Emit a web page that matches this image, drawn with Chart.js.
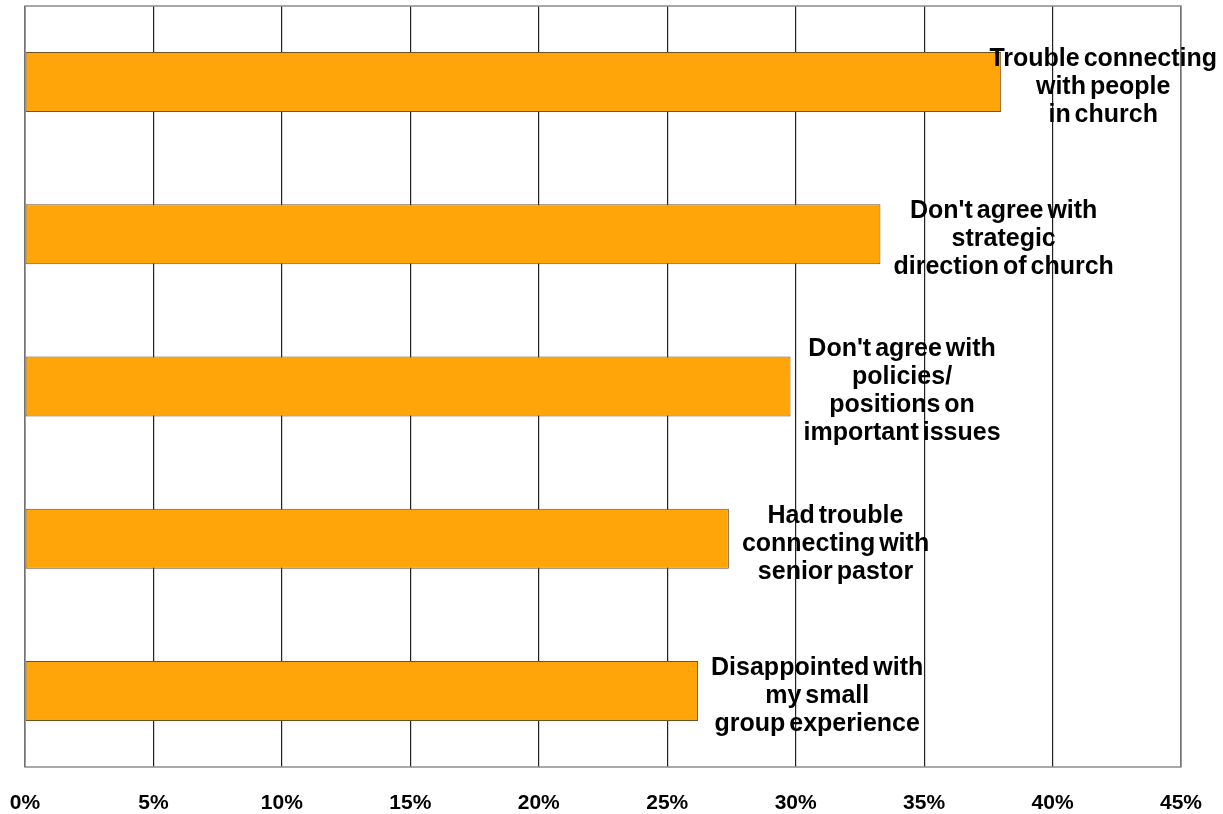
<!DOCTYPE html>
<html>
<head>
<meta charset="utf-8">
<script src="https://cdn.jsdelivr.net/npm/chart.js@4/dist/chart.umd.min.js"></script>
<style>
  html, body { margin: 0; padding: 0; background: #fff; }
  #wrap { width: 1223px; height: 814px; }
</style>
</head>
<body>
<div id="wrap"><canvas id="c" width="1223" height="814"></canvas></div>
<script>
const categories = [
  ["Trouble connecting", "with people", "in church"],
  ["Don't agree with", "strategic", "direction of church"],
  ["Don't agree with", "policies/", "positions on", "important issues"],
  ["Had trouble", "connecting with", "senior pastor"],
  ["Disappointed with", "my small", "group experience"]
];
const values = [38.0, 33.3, 29.8, 27.4, 26.2];
const tickValues = [0, 5, 10, 15, 20, 25, 30, 35, 40, 45];

const LABEL_FONT = 'bold 25px "Liberation Sans", Arial, sans-serif';

const framePlugin = {
  id: 'frame',
  beforeDatasetsDraw(chart) {
    const a = chart.chartArea, ctx = chart.ctx;
    ctx.save();
    ctx.strokeStyle = '#8c8c8c';
    ctx.lineWidth = 1.5;
    ctx.strokeRect(a.left, a.top, a.right - a.left, a.bottom - a.top);
    ctx.restore();
  }
};

const labelPlugin = {
  id: 'barLabels',
  afterDatasetsDraw(chart) {
    const ctx = chart.ctx;
    const meta = chart.getDatasetMeta(0);
    ctx.save();
    ctx.font = LABEL_FONT;
    try { ctx.wordSpacing = '-3px'; } catch (e) {}
    ctx.fillStyle = '#000';
    ctx.textAlign = 'center';
    ctx.textBaseline = 'middle';
    const lh = 28;
    meta.data.forEach((bar, i) => {
      const lines = chart.data.labels[i];
      let w = 0;
      lines.forEach(l => { w = Math.max(w, ctx.measureText(l).width); });
      let left = Math.min(bar.x + 13, chart.width - 6 - w);
      const cx = left + w / 2;
      const y0 = bar.y + 5 - (lines.length - 1) * lh / 2;
      lines.forEach((l, k) => ctx.fillText(l, cx, y0 + k * lh));
    });
    ctx.restore();
  }
};

new Chart(document.getElementById('c'), {
  type: 'bar',
  data: {
    labels: categories,
    datasets: [{
      data: values,
      backgroundColor: '#FFA50A',
      borderColor: '#6e5226',
      borderWidth: 1,
      borderSkipped: false,
      categoryPercentage: 1.0,
      barPercentage: 0.394
    }]
  },
  options: {
    indexAxis: 'y',
    responsive: false,
    animation: false,
    devicePixelRatio: 1,
    layout: { padding: { left: 25, right: 42, top: 6, bottom: 0 } },
    plugins: { legend: { display: false }, tooltip: { enabled: false } },
    scales: {
      x: {
        min: 0, max: 45,
        afterBuildTicks(axis) { axis.ticks = tickValues.map(v => ({ value: v })); },
        afterFit(axis) { axis.height = 47; axis.paddingLeft = 0; axis.paddingRight = 0; },
        ticks: {
          callback: v => v + '%',
          color: '#000',
          padding: 24.5,
          maxRotation: 0,
          autoSkip: false,
          font: { family: '"Liberation Sans", Arial, sans-serif', size: 21, weight: 'bold', lineHeight: 1.1 }
        },
        grid: { color: '#222', lineWidth: 1.2, drawTicks: false },
        border: { display: false }
      },
      y: {
        display: false
      }
    }
  },
  plugins: [framePlugin, labelPlugin]
});
</script>
</body>
</html>
